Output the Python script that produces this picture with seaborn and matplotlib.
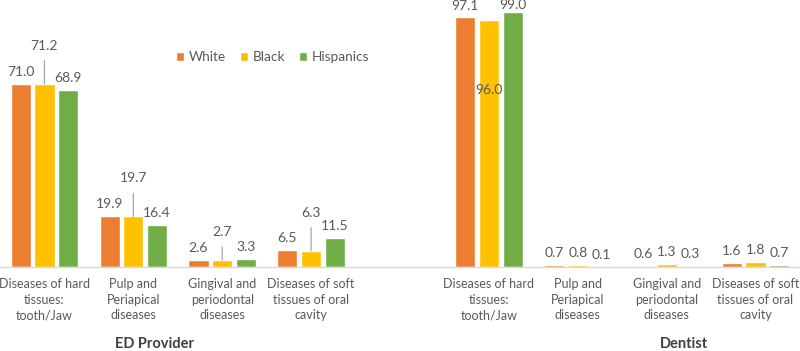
import matplotlib
matplotlib.use("Agg")
import matplotlib.pyplot as plt
import matplotlib.transforms as mtransforms
import seaborn as sns
import pandas as pd

# ---------------- data ----------------
providers = ["ED Provider", "Dentist"]
categories = [
    "Diseases of hard\ntissues:\ntooth/Jaw",
    "Pulp and\nPeriapical\ndiseases",
    "Gingival and\nperiodontal\ndiseases",
    "Diseases of soft\ntissues of oral\ncavity",
]
races = ["White", "Black", "Hispanics"]
# order: ED Provider (4 categories) then Dentist (4 categories)
white = [71.0, 19.9, 2.6, 6.5, 97.1, 0.7, 0.6, 1.6]
black = [71.2, 19.7, 2.7, 6.3, 96.0, 0.8, 1.3, 1.8]
hispanics = [68.9, 16.4, 3.3, 11.5, 99.0, 0.1, 0.3, 0.7]

# ---------------- table ----------------
series = {"White": white, "Black": black, "Hispanics": hispanics}
rows = []
keys = []
for pi, prov in enumerate(providers):
    for ci, cat in enumerate(categories):
        key = f"{prov}|{ci}"
        if key not in keys:
            keys.append(key)
        for race in races:
            rows.append({"key": key, "race": race,
                         "value": series[race][pi * len(categories) + ci]})
df = pd.DataFrame(rows)
spacer = "spacer"
order = keys[:4] + [spacer] + keys[4:]
tick_labels = categories + [""] + categories

# ---------------- style ----------------
sns.set_theme(style="white")
plt.rcParams["font.family"] = ["Lato", "DejaVu Sans"]
colors = {"White": "#ED7D31", "Black": "#FFC000", "Hispanics": "#70AD47"}
text_gray = "#595959"

fig = plt.figure(figsize=(8.0, 3.51), dpi=100)
ax = fig.add_axes([0.0, 0.239, 1.0, 0.761])

sns.barplot(data=df, x="key", y="value", hue="race", order=order,
            hue_order=races, palette=colors, width=0.8, gap=0.15,
            errorbar=None, ax=ax, saturation=1)

ax.set_xlim(-0.5, 8.5)
ax.set_ylim(0, 103.8)
for s in ["top", "right", "left"]:
    ax.spines[s].set_visible(False)
ax.spines["bottom"].set_color("#d9d9d9")
ax.spines["bottom"].set_linewidth(1.0)
ax.set_yticks([])
ax.set_xlabel("")
ax.set_ylabel("")
ax.set_xticks(range(len(order)))
ax.set_xticklabels(tick_labels, fontsize=9.0, color=text_gray, linespacing=1.35)
ax.tick_params(axis="x", length=0, pad=8)

# ---------------- value labels ----------------
# special label placements (pixel offsets of label centre from bar top)
raised = {("Black", 0): 38, ("Black", 1): 38, ("Black", 2): 28, ("Black", 3): 38}
custom = {("Black", 5): -70, ("White", 5): 11, ("Hispanics", 5): 7}
for race, cont in zip(races, ax.containers):
    for bar in cont:
        h = bar.get_height()
        x = bar.get_x() + bar.get_width() / 2
        slot = int(round(x))
        key = (race, slot)
        txt = f"{h:.1f}"
        if key in raised:
            ax.annotate(txt, xy=(x, h), xytext=(0, raised[key]),
                        textcoords="offset pixels", ha="center", va="center",
                        fontsize=10, color=text_gray,
                        arrowprops=dict(arrowstyle="-", color="#a6a6a6",
                                        lw=0.9, shrinkA=4, shrinkB=0))
        else:
            off = custom.get(key, 12)
            ax.annotate(txt, xy=(x, h), xytext=(0, off),
                        textcoords="offset pixels", ha="center", va="center",
                        fontsize=10, color=text_gray, annotation_clip=False)

# ---------------- legend ----------------
handles, labels = ax.get_legend_handles_labels()
ax.legend(handles, labels, loc="center", bbox_to_anchor=(0.341, 0.786),
          ncol=3, frameon=False, fontsize=9.8, handlelength=0.6,
          handleheight=0.6, handletextpad=0.35, columnspacing=1.0,
          labelcolor=text_gray)

# ---------------- group titles ----------------
trans = mtransforms.blended_transform_factory(ax.transData, fig.transFigure)
ax.text(1.24, 0.0, "ED Provider", transform=trans, ha="center", va="bottom",
        fontsize=10.5, fontweight="bold", color="#404040")
ax.text(7.19, 0.0, "Dentist", transform=trans, ha="center", va="bottom",
        fontsize=10.5, fontweight="bold", color="#404040")

fig.savefig("out.png", dpi=100)
